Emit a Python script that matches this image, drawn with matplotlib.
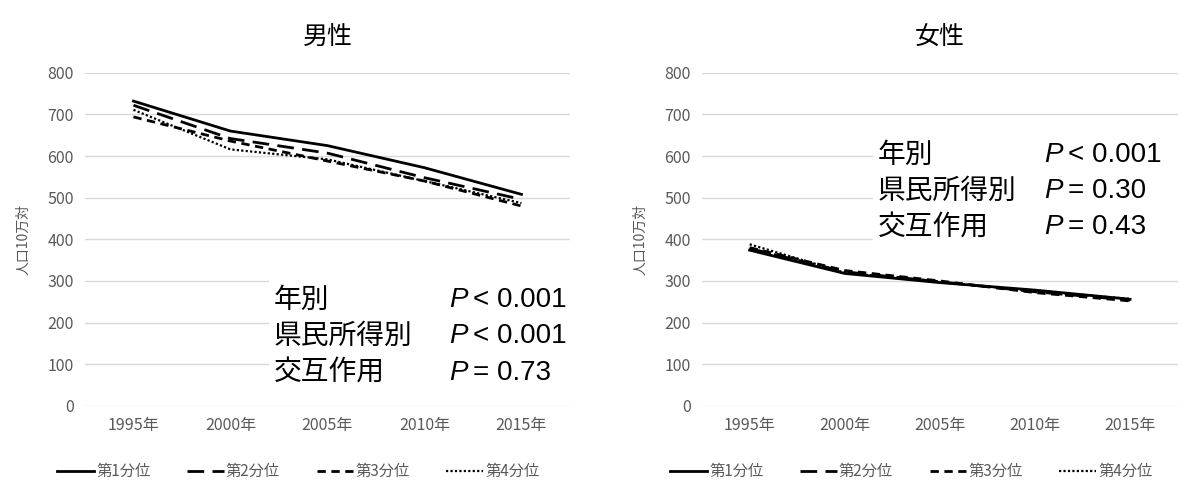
import matplotlib.pyplot as plt
from matplotlib.patches import Rectangle

plt.rcParams['font.family'] = ['Noto Sans CJK JP', 'DejaVu Sans']

years = ['1995年', '2000年', '2005年', '2010年', '2015年']
series_names = ['第1分位', '第2分位', '第3分位', '第4分位']

male_q1 = [732, 660, 625, 572, 508]
male_q2 = [722, 642, 607, 548, 496]
male_q3 = [694, 636, 588, 540, 480]
male_q4 = [711, 616, 592, 540, 487]

female_q1 = [374, 318, 296, 278, 256]
female_q2 = [378, 322, 298, 274, 254]
female_q3 = [380, 325, 300, 272, 252]
female_q4 = [388, 320, 297, 276, 257]

male_stats = [('年別', '< 0.001'), ('県民所得別', '< 0.001'), ('交互作用', '= 0.73')]
female_stats = [('年別', '< 0.001'), ('県民所得別', '= 0.30'), ('交互作用', '= 0.43')]

styles = [
    dict(linestyle='-', linewidth=2.0),
    dict(linestyle=(0, (6, 3)), linewidth=2.0),
    dict(linestyle=(0, (3, 2)), linewidth=2.0),
    dict(linestyle=(0, (1, 1)), linewidth=1.6),
]

fig = plt.figure(figsize=(11.8, 4.82), dpi=100)
ax1 = fig.add_axes([0.072, 0.158, 0.411, 0.691])
ax2 = fig.add_axes([0.595, 0.158, 0.403, 0.691])

# (axes, title, series, stats, label x, P x, first line y) in axes fractions
panels = [
    (ax1, '男性', [male_q1, male_q2, male_q3, male_q4], male_stats, 0.39, 0.75, 0.318),
    (ax2, '女性', [female_q1, female_q2, female_q3, female_q4], female_stats, 0.37, 0.72, 0.754),
]

for ax, title, data, stats, tx, px, ty in panels:
    x = list(range(len(years)))
    for vals, name, st in zip(data, series_names, styles):
        ax.plot(x, vals, color='black', label=name, **st)
    ax.set_xlim(-0.5, len(years) - 0.5)
    ax.set_ylim(0, 800)
    ax.set_yticks(range(0, 801, 100))
    ax.set_xticks(x)
    ax.set_xticklabels(years)
    ax.grid(axis='y', color='#d9d9d9', linewidth=1)
    ax.set_axisbelow(True)
    for s in ax.spines.values():
        s.set_visible(False)
    ax.tick_params(length=0, labelsize=11.5, colors='#595959', pad=8)
    ax.set_ylabel('人口10万対', fontsize=10, color='#595959', labelpad=12)
    ax.set_title(title, fontsize=18, pad=20)
    ax.legend(loc='upper center', bbox_to_anchor=(0.44, -0.13), ncol=4, frameon=False,
              fontsize=11, handlelength=2.4, handletextpad=0.15, columnspacing=2.4,
              labelcolor='#595959')

    # statistics box
    step = 0.109
    ax.add_patch(Rectangle((tx - 0.01, ty - 2 * step - 0.06), 0.66, 3 * step + 0.06,
                           transform=ax.transAxes, facecolor='white', edgecolor='none',
                           zorder=3, clip_on=False))
    for i, (lab, val) in enumerate(stats):
        yy = ty - i * step
        ax.text(tx, yy, lab, transform=ax.transAxes, fontsize=20, va='center', ha='left', zorder=4)
        ax.text(px, yy, 'P', transform=ax.transAxes, fontsize=20, va='center', ha='left',
                family=['Liberation Sans'], style='italic', zorder=4)
        ax.text(px + 0.05, yy, val, transform=ax.transAxes, fontsize=20, va='center', ha='left',
                family=['Liberation Sans'], zorder=4)

fig.savefig('out.png', dpi=100)
